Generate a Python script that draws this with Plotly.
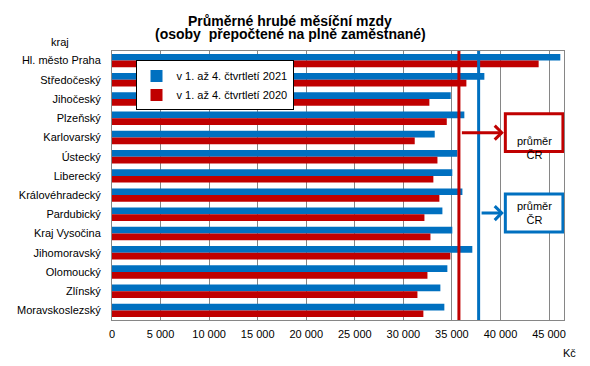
import plotly.graph_objects as go

regions = ["Hl. město Praha", "Středočeský", "Jihočeský", "Plzeňský", "Karlovarský",
           "Ústecký", "Liberecký", "Královéhradecký", "Pardubický", "Kraj Vysočina",
           "Jihomoravský", "Olomoucký", "Zlínský", "Moravskoslezský"]
wage_2021 = [46160, 38340, 34880, 36280, 33230, 35560, 35040, 36080, 34020, 35040,
             37100, 34530, 33810, 34220]
wage_2020 = [43930, 36490, 32680, 34470, 31170, 33510, 33090, 33710, 32170, 32790,
             34840, 32480, 31450, 32060]
avg_cr_2021 = 37750
avg_cr_2020 = 35720
x_tickvals = [0, 5000, 10000, 15000, 20000, 25000, 30000, 35000, 40000, 45000]
x_ticktext = ["0", "5 000", "10 000", "15 000", "20 000", "25 000", "30 000",
              "35 000", "40 000", "45 000"]
series_names = ["v 1. až 4. čtvrtletí 2021", "v 1. až 4. čtvrtletí 2020"]
title_lines = ["Průměrné hrubé měsíční mzdy", "(osoby  přepočtené na plně zaměstnané)"]

BLUE = "#0070C0"
RED = "#C00000"
FONT = "Liberation Sans, Arial, sans-serif"

fig = go.Figure()
fig.add_trace(go.Bar(y=regions, x=wage_2021, orientation="h", name=series_names[0],
                     marker=dict(color=BLUE, line=dict(width=0))))
fig.add_trace(go.Bar(y=regions, x=wage_2020, orientation="h", name=series_names[1],
                     marker=dict(color=RED, line=dict(width=0))))

# average lines
for val, col in [(avg_cr_2020, RED), (avg_cr_2021, BLUE)]:
    fig.add_shape(type="line", xref="x", yref="y domain", x0=val, x1=val, y0=0, y1=1,
                  line=dict(color=col, width=3), layer="above")

# boxes "průměr ČR"
box_x0, box_x1 = 40500, 46430
boxes = [(RED, 0.626, 0.767, avg_cr_2020), (BLUE, 0.327, 0.468, avg_cr_2021)]
for col, y0, y1, val in boxes:
    fig.add_shape(type="rect", xref="x", yref="y domain", x0=box_x0, x1=box_x1, y0=y0, y1=y1,
                  line=dict(color=col, width=3), fillcolor="white", layer="above")
    fig.add_annotation(xref="x", yref="y domain", x=(box_x0 + box_x1) / 2, y=(y0 + y1) / 2,
                       text="průměr<br>ČR", showarrow=False,
                       font=dict(family=FONT, size=11, color="black"))
    fig.add_annotation(xref="x", yref="y domain", x=box_x0 - 150, y=(y0 + y1) / 2,
                       axref="x", ayref="y domain", ax=val + 150, ay=(y0 + y1) / 2,
                       text="", showarrow=True, arrowhead=4, arrowsize=0.9,
                       arrowwidth=3, arrowcolor=col)

# title (two lines placed separately)
fig.add_annotation(xref="paper", yref="paper", x=0.394, y=1.1126, xanchor="center",
                   yanchor="middle", text="<b>" + title_lines[0] + "</b>", showarrow=False,
                   font=dict(family=FONT, size=14, color="black"))
fig.add_annotation(xref="paper", yref="paper", x=0.394, y=1.0617, xanchor="center",
                   yanchor="middle", text="<b>" + title_lines[1] + "</b>", showarrow=False,
                   font=dict(family=FONT, size=14, color="black"))

fig.add_annotation(xref="paper", yref="paper", x=-0.115, y=1.0335, yanchor="middle",
                   xanchor="center", text="kraj", showarrow=False,
                   font=dict(family=FONT, size=11, color="black"))
fig.add_annotation(xref="paper", yref="paper", x=1.013, y=-0.1227, yanchor="middle",
                   xanchor="center", text="Kč", showarrow=False,
                   font=dict(family=FONT, size=11, color="black"))

fig.update_layout(
    width=590, height=366,
    margin=dict(l=112, r=26, t=51, b=46),
    paper_bgcolor="white", plot_bgcolor="white",
    barmode="group", bargap=0.3, bargroupgap=0,
    font=dict(family=FONT, size=11, color="black"),
    legend=dict(x=0.052, y=0.965, xanchor="left", yanchor="top",
                bgcolor="white", bordercolor="black", borderwidth=1,
                font=dict(family=FONT, size=11), traceorder="normal",
                itemwidth=30, tracegroupgap=0),
    showlegend=True,
)
fig.update_xaxes(range=[0, 46540], tickvals=x_tickvals, ticktext=x_ticktext,
                 showgrid=True, gridcolor="#868686", gridwidth=1,
                 showline=True, linecolor="#868686", linewidth=1, mirror=True,
                 ticks="", ticklabelstandoff=4, zeroline=False, automargin=False,
                 tickfont=dict(family=FONT, size=11))
fig.update_yaxes(autorange="reversed", showgrid=False,
                 showline=True, linecolor="#868686", linewidth=1, mirror=True,
                 ticks="", ticklabelstandoff=8, automargin=False,
                 tickfont=dict(family=FONT, size=11))

fig.write_html("out.html", config={"displayModeBar": False},
               post_script="document.body.style.margin='0';")
